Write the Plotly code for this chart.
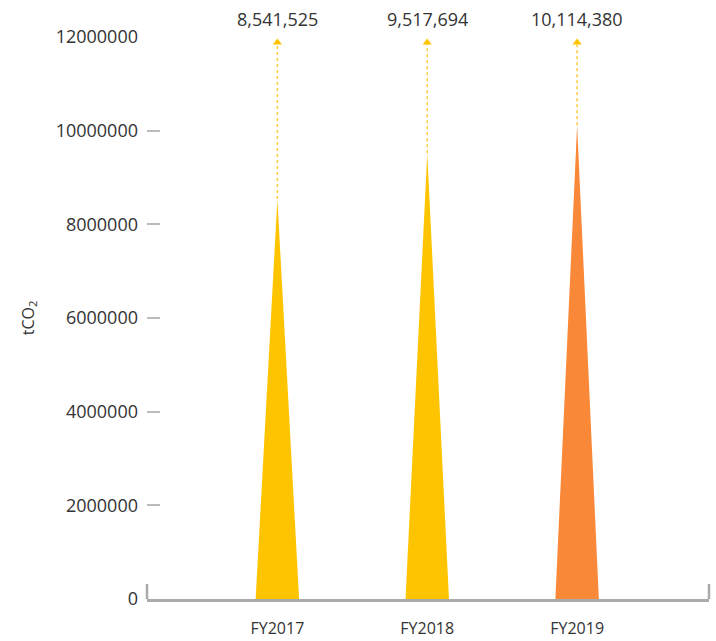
import plotly.graph_objects as go

categories = ["FY2017", "FY2018", "FY2019"]
values = [8541525, 9517694, 10114380]
value_labels = ["8,541,525", "9,517,694", "10,114,380"]
bar_colors = ["#FFC400", "#FFC400", "#F98838"]
y_tick_vals = [0, 2000000, 4000000, 6000000, 8000000, 10000000, 12000000]
y_tick_text = ["0", "2000000", "4000000", "6000000", "8000000", "10000000", "12000000"]

FONT = "Open Sans"
half_w = 0.145
arrow_top = 11880000

fig = go.Figure()
for i, (cat, v, c) in enumerate(zip(categories, values, bar_colors)):
    fig.add_trace(go.Scatter(
        x=[i - half_w, i, i + half_w, i - half_w], y=[0, v, 0, 0],
        mode="lines", fill="toself", fillcolor=c, line=dict(width=0),
        hoverinfo="skip", showlegend=False))
    fig.add_trace(go.Scatter(
        x=[i, i], y=[v, arrow_top], mode="lines",
        line=dict(color="#FFC93A", width=1.5, dash="3px,3px"),
        hoverinfo="skip", showlegend=False, cliponaxis=False))
    fig.add_trace(go.Scatter(
        x=[i], y=[arrow_top], mode="markers",
        marker=dict(symbol="triangle-up", size=8, color="#FFC400"),
        hoverinfo="skip", showlegend=False, cliponaxis=False))
    fig.add_annotation(x=i, y=12000000, yshift=18, text=value_labels[i],
                       showarrow=False, xref="x", yref="y",
                       font=dict(family=FONT, size=18, color="#333333"))

for xp in [0, 1]:
    fig.add_shape(type="line", xref="paper", yref="y", x0=xp, x1=xp,
                  y0=0, y1=320000, line=dict(color="#AAAAAA", width=2.5))

fig.update_layout(
    width=716, height=641,
    margin=dict(l=147, r=7, t=37, b=42, autoexpand=False),
    paper_bgcolor="white", plot_bgcolor="white",
    font=dict(family=FONT, color="#333333"),
    xaxis=dict(range=[-0.87, 2.88], tickvals=[0, 1, 2], ticktext=categories,
               showgrid=False, zeroline=False, showline=True, automargin=False,
               linecolor="#AAAAAA", linewidth=2.5, ticks="",
               ticklabelstandoff=13,
               tickfont=dict(family=FONT, size=16, color="#333333")),
    yaxis=dict(range=[0, 12000000], tickvals=y_tick_vals, ticktext=y_tick_text,
               showgrid=False, zeroline=False, showline=False, automargin=False,
               ticks="inside", ticklen=13, tickwidth=2, tickcolor="#BBBBBB",
               ticklabelstandoff=8,
               tickfont=dict(family=FONT, size=18, color="#333333"),
               title=dict(text="tCO<sub>2</sub>", standoff=17,
                          font=dict(family=FONT, size=16, color="#333333"))),
)

fig.write_html("out.html", config={"displayModeBar": False},
               post_script="document.body.style.margin='0';document.body.style.padding='0';")
